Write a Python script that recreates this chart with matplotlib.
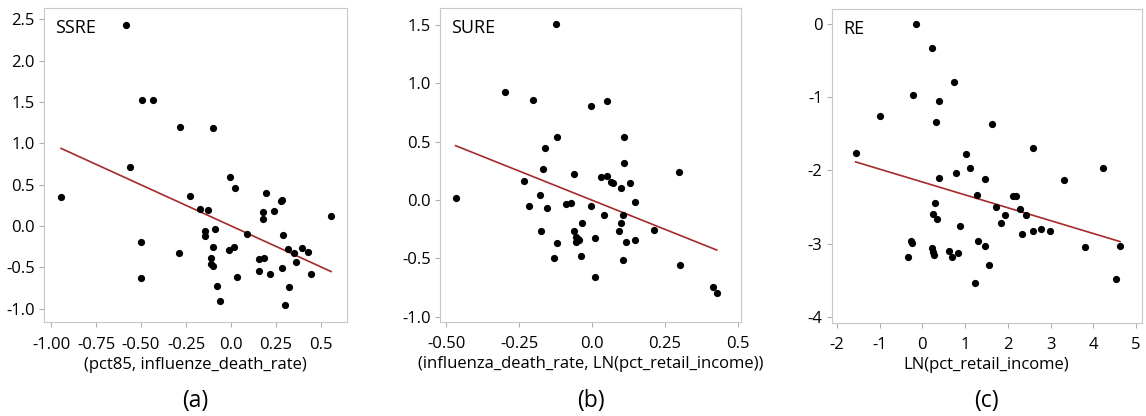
import matplotlib.pyplot as plt
import numpy as np

# panel (a) SSRE
xa = [-0.585, -0.496, -0.432, -0.283, -0.102, -0.944, -0.561, -0.006, 0.022, -0.23,
      0.196, 0.276, 0.285, -0.172, -0.126, 0.178, 0.241, 0.178, 0.554, -0.143,
      -0.143, -0.087, 0.087, 0.287, -0.498, -0.291, -0.098, -0.013, 0.015, 0.319,
      0.348, 0.393, 0.428, -0.113, 0.154, 0.183, 0.363, -0.109, -0.098, 0.283,
      0.154, 0.217, 0.446, 0.033, -0.502, -0.076, 0.322, -0.061, 0.30]
ya = [2.43, 1.53, 1.53, 1.20, 1.19, 0.35, 0.71, 0.60, 0.46, 0.37,
      0.40, 0.30, 0.31, 0.21, 0.20, 0.17, 0.18, 0.085, 0.12, -0.06,
      -0.12, -0.04, -0.09, -0.11, -0.19, -0.32, -0.25, -0.29, -0.25, -0.28,
      -0.32, -0.27, -0.31, -0.39, -0.40, -0.39, -0.44, -0.46, -0.48, -0.51,
      -0.54, -0.58, -0.58, -0.61, -0.63, -0.73, -0.74, -0.91, -0.96]
fit_ax = [-0.944, 0.556]
fit_ay = [0.94, -0.55]

# panel (b) SURE
xb = [-0.123, -0.300, -0.203, -0.003, 0.051, -0.121, 0.110, -0.163, 0.110, -0.170,
      0.296, -0.061, 0.030, 0.051, -0.233, 0.065, 0.072, 0.130, 0.099, -0.177,
      -0.468, -0.217, -0.155, -0.091, -0.072, -0.003, 0.147, 0.039, 0.107, -0.035,
      0.098, -0.175, -0.061, 0.092, 0.211, -0.056, -0.049, -0.054, -0.046, 0.011,
      0.116, 0.147, -0.121, -0.038, -0.131, 0.105, 0.300, 0.009, 0.413, 0.429]
yb = [1.51, 0.93, 0.86, 0.81, 0.85, 0.54, 0.54, 0.45, 0.32, 0.27,
      0.24, 0.22, 0.20, 0.21, 0.16, 0.157, 0.149, 0.143, 0.106, 0.046,
      0.02, -0.049, -0.069, -0.031, -0.026, -0.049, -0.02, -0.131, -0.126, -0.194,
      -0.194, -0.263, -0.269, -0.269, -0.257, -0.32, -0.33, -0.36, -0.34, -0.329,
      -0.357, -0.343, -0.369, -0.483, -0.497, -0.514, -0.554, -0.66, -0.743, -0.794]
fit_bx = [-0.468, 0.427]
fit_by = [0.466, -0.429]

# panel (c) RE
xc = [-0.156, 0.226, 0.749, -0.226, 0.382, -0.990, 0.320, 1.637, 2.589, -1.559,
      1.029, 1.123, 4.226, 0.780, 0.382, 1.466, 3.306, 1.271, 2.129, 2.191,
      0.296, 1.723, 2.277, 0.250, 1.926, 2.417, 0.351, 1.848, 0.889, 2.784,
      2.324, 2.581, 2.979, -0.273, -0.242, 1.294, 1.466, 3.813, 4.624, 0.234,
      0.257, 0.281, 0.616, 0.827, -0.335, 0.694, 1.567, 4.530, 1.224]
yc = [0.0, -0.332, -0.787, -0.965, -1.056, -1.252, -1.343, -1.370, -1.693, -1.762,
      -1.780, -1.971, -1.962, -2.039, -2.103, -2.112, -2.126, -2.330, -2.353, -2.353,
      -2.444, -2.499, -2.526, -2.594, -2.604, -2.613, -2.667, -2.713, -2.758, -2.795,
      -2.863, -2.831, -2.831, -2.959, -2.995, -2.968, -3.027, -3.045, -3.036, -3.063,
      -3.109, -3.150, -3.100, -3.127, -3.177, -3.186, -3.295, -3.477, -3.532]
fit_cx = [-1.559, 4.624]
fit_cy = [-1.884, -2.972]

plt.rcParams['font.family'] = ['Open Sans', 'DejaVu Sans']

fig = plt.figure(figsize=(11.46, 4.16), dpi=100)

panels = [
    ([0.0384, 0.226, 0.2644, 0.755], xa, ya, fit_ax, fit_ay, 'SSRE',
     (-1.039, 0.644), (-1.16, 2.64),
     [-1.0, -0.75, -0.5, -0.25, 0.0, 0.25, 0.5],
     ['-1.00', '-0.75', '-0.50', '-0.25', '0.0', '0.25', '0.5'],
     [-1.0, -0.5, 0.0, 0.5, 1.0, 1.5, 2.0, 2.5],
     ['-1.0', '-0.5', '0.0', '0.5', '1.0', '1.5', '2.0', '2.5'],
     '(pct85, influenze_death_rate)', '(a)'),
    ([0.384, 0.2267, 0.2626, 0.7533], xb, yb, fit_bx, fit_by, 'SURE',
     (-0.521, 0.510), (-1.043, 1.643),
     [-0.5, -0.25, 0.0, 0.25, 0.5],
     ['-0.50', '-0.25', '0.0', '0.25', '0.5'],
     [-1.0, -0.5, 0.0, 0.5, 1.0, 1.5],
     ['-1.0', '-0.5', '0.0', '0.5', '1.0', '1.5'],
     '(influenza_death_rate, LN(pct_retail_income))', '(b)'),
    ([0.7257, 0.2243, 0.2705, 0.7533], xc, yc, fit_cx, fit_cy, 'RE',
     (-2.12, 5.13), (-4.08, 0.20),
     [-2, -1, 0, 1, 2, 3, 4, 5],
     ['-2', '-1', '0', '1', '2', '3', '4', '5'],
     [-4, -3, -2, -1, 0],
     ['-4', '-3', '-2', '-1', '0'],
     'LN(pct_retail_income)', '(c)'),
]

for rect, x, y, fx, fy, name, xlim, ylim, xt, xtl, yt, ytl, xlab, letter in panels:
    ax = fig.add_axes(rect)
    ax.scatter(x, y, s=27, color='black', zorder=3, linewidths=0)
    ax.plot(fx, fy, color='#a52a2a', linewidth=1.2, zorder=2)
    ax.set_xlim(xlim)
    ax.set_ylim(ylim)
    ax.set_xticks(xt)
    ax.set_xticklabels(xtl)
    ax.set_yticks(yt)
    ax.set_yticklabels(ytl)
    ax.tick_params(labelsize=12, color='#b0b0b0', length=3.5)
    ax.tick_params(axis='x', pad=7)
    ax.tick_params(axis='y', pad=3)
    for s in ax.spines.values():
        s.set_color('#c8c8c8')
    ax.set_xlabel(xlab, fontsize=12, labelpad=3)
    ax.text(0.037, 0.936, name, transform=ax.transAxes, fontsize=13,
            va='center', ha='left')
    cx = rect[0] + rect[2] / 2
    fig.text(cx, 0.035, letter, fontsize=16.5, ha='center', va='center')

fig.savefig('out.png', dpi=100)
